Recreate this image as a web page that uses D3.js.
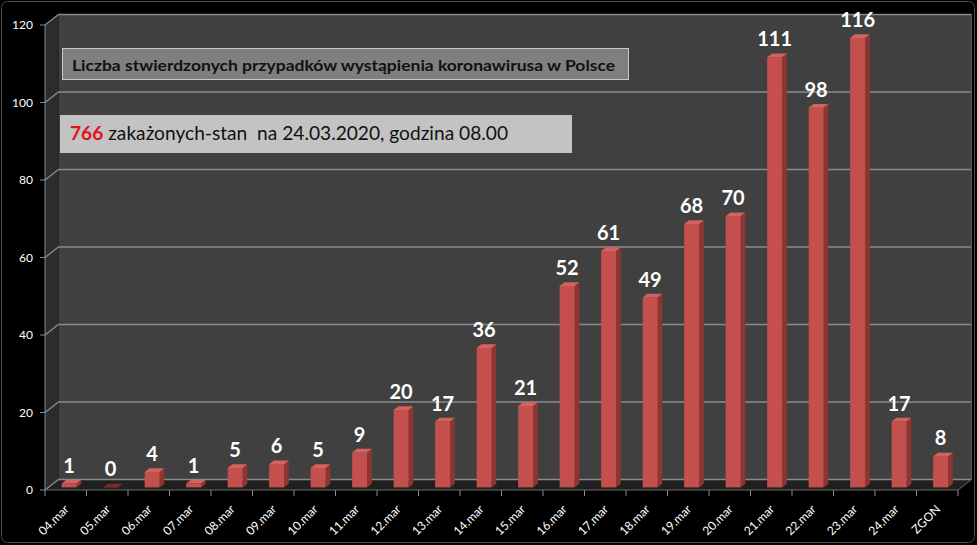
<!DOCTYPE html>
<html>
<head>
<meta charset="utf-8">
<script src="https://cdn.jsdelivr.net/npm/d3@7"></script>
<style>
  html, body { margin: 0; padding: 0; background: #000; }
  svg { display: block; }
  text { font-family: Lato, "Open Sans", sans-serif; }
</style>
</head>
<body>
<svg id="chart" width="977" height="545"></svg>
<script>

// Chart data
const categories = ["04.mar", "05.mar", "06.mar", "07.mar", "08.mar", "09.mar", "10.mar", "11.mar",
                    "12.mar", "13.mar", "14.mar", "15.mar", "16.mar", "17.mar", "18.mar", "19.mar",
                    "20.mar", "21.mar", "22.mar", "23.mar", "24.mar", "ZGON"];
const cases = [1, 0, 4, 1, 5, 6, 5, 9, 20, 17, 36, 21, 52, 61, 49, 68, 70, 111, 98, 116, 17, 8];
const yTicks = [0, 20, 40, 60, 80, 100, 120];
const titleText = "Liczba stwierdzonych przypadków wystąpienia koronawirusa w Polsce";
const totalCases = "766";
const statusText = " zakażonych-stan  na 24.03.2020, godzina 08.00";

const svg = d3.select("#chart");

// Front plane of the 3D box, plus the depth offset to the back wall
const plotLeft = 45, plotRight = 958, plotTop = 25, plotBottom = 490;
const depthX = 13.5, depthY = -10.5;

const x = d3.scaleBand().domain(categories).range([plotLeft, plotRight]);
const y = d3.scaleLinear().domain([0, 120]).range([plotBottom, plotTop]);

// Outer chart border
svg.append("rect")
    .attr("x", 1.5).attr("y", 1.5)
    .attr("width", 973).attr("height", 541)
    .attr("rx", 6)
    .attr("fill", "#000")
    .attr("stroke", "#4a4a4a");

const pts = (arr) => arr.map(p => p.join(",")).join(" ");

// Walls and floor
svg.append("polygon")
    .attr("points", pts([[plotLeft + depthX, plotTop + depthY], [plotRight + depthX, plotTop + depthY],
                         [plotRight + depthX, plotBottom + depthY], [plotLeft + depthX, plotBottom + depthY]]))
    .attr("fill", "#404040");
svg.append("polygon")
    .attr("points", pts([[plotLeft, plotTop], [plotLeft + depthX, plotTop + depthY],
                         [plotLeft + depthX, plotBottom + depthY], [plotLeft, plotBottom]]))
    .attr("fill", "#2c2c2c");
svg.append("polygon")
    .attr("points", pts([[plotLeft, plotBottom], [plotLeft + depthX, plotBottom + depthY],
                         [plotRight + depthX, plotBottom + depthY], [plotRight, plotBottom]]))
    .attr("fill", "#202020");

// Gridlines on side wall + back wall
const grid = svg.append("g").attr("fill", "none").attr("stroke", "#8a8a8a").attr("stroke-width", 1.3);
grid.selectAll("path")
    .data(yTicks)
    .enter()
    .append("path")
    .attr("d", (d) => `M${plotLeft},${y(d)} L${plotLeft + depthX},${y(d) + depthY} L${plotRight + depthX},${y(d) + depthY}`);

// Right edge of back wall
svg.append("line")
    .attr("x1", plotRight + depthX).attr("x2", plotRight + depthX)
    .attr("y1", plotTop + depthY).attr("y2", plotBottom + depthY)
    .attr("stroke", "#5a5a5a");

// Floor front edge + right edge
svg.append("path")
    .attr("d", `M${plotLeft},${plotBottom} L${plotRight},${plotBottom} L${plotRight + depthX},${plotBottom + depthY}`)
    .attr("fill", "none")
    .attr("stroke", "#6a6a6a");

// Y axis line, ticks and labels
svg.append("line")
    .attr("x1", plotLeft).attr("x2", plotLeft)
    .attr("y1", plotTop).attr("y2", plotBottom)
    .attr("stroke", "#8a8a8a");

const yAxis = svg.append("g");
yAxis.selectAll("line")
    .data(yTicks)
    .enter()
    .append("line")
    .attr("x1", plotLeft - 5).attr("x2", plotLeft)
    .attr("y1", (d) => y(d)).attr("y2", (d) => y(d))
    .attr("stroke", "#8a8a8a");
yAxis.selectAll("text")
    .data(yTicks)
    .enter()
    .append("text")
    .attr("x", 33)
    .attr("y", (d) => y(d))
    .attr("dy", "0.35em")
    .attr("text-anchor", "end")
    .attr("fill", "#fff")
    .attr("font-size", 12)
    .text((d) => d);

// X axis ticks at band boundaries, and rotated labels
const xAxis = svg.append("g");
xAxis.selectAll("line")
    .data(categories.concat([null]))
    .enter()
    .append("line")
    .attr("x1", (d, i) => plotLeft + i * x.bandwidth())
    .attr("x2", (d, i) => plotLeft + i * x.bandwidth())
    .attr("y1", plotBottom).attr("y2", plotBottom + 6)
    .attr("stroke", "#8a8a8a");
xAxis.selectAll("text")
    .data(categories)
    .enter()
    .append("text")
    .attr("transform", (d) => `translate(${x(d) + x.bandwidth() / 2 + 1},${plotBottom + 17}) rotate(-45)`)
    .attr("text-anchor", "end")
    .attr("dy", "0.35em")
    .attr("fill", "#fff")
    .attr("font-size", 12)
    .text((d) => d);

// 3D bars
const f0 = 0.25, f1 = 0.6;                  // front/back depth of the bars
const barW = x.bandwidth() * 0.36;
const sdx = (f1 - f0) * depthX, sdy = (f1 - f0) * depthY;

const bars = svg.append("g")
    .selectAll("g")
    .data(categories.map((c, i) => ({ cat: c, value: cases[i] })))
    .enter()
    .append("g");

const barGeom = (d) => {
    const cx = x(d.cat) + x.bandwidth() / 2 + f0 * depthX;
    return { xl: cx - barW / 2, xr: cx + barW / 2, yt: y(d.value) + f0 * depthY, yb: y(0) + f0 * depthY, cx };
};

bars.append("polygon")
    .attr("points", (d) => {
        const g = barGeom(d);
        return pts([[g.xr, g.yt], [g.xr + sdx, g.yt + sdy], [g.xr + sdx, g.yb + sdy], [g.xr, g.yb]]);
    })
    .attr("fill", "#8e3532");
bars.append("rect")
    .attr("x", (d) => barGeom(d).xl)
    .attr("y", (d) => barGeom(d).yt)
    .attr("width", barW)
    .attr("height", (d) => barGeom(d).yb - barGeom(d).yt)
    .attr("fill", "#c4504d");
bars.append("polygon")
    .attr("points", (d) => {
        const g = barGeom(d);
        return pts([[g.xl, g.yt], [g.xr, g.yt], [g.xr + sdx, g.yt + sdy], [g.xl + sdx, g.yt + sdy]]);
    })
    .attr("fill", (d) => d.value === 0 ? "#7a2c2a" : "#d4625f");

// Value labels
bars.append("text")
    .attr("x", (d) => barGeom(d).cx)
    .attr("y", (d) => barGeom(d).yt - 11)
    .attr("text-anchor", "middle")
    .attr("fill", "#fff")
    .attr("font-size", 20)
    .attr("font-weight", "bold")
    .text((d) => d.value);

// Title box
svg.append("rect")
    .attr("x", 62.5).attr("y", 48.5)
    .attr("width", 566).attr("height", 31)
    .attr("fill", "#7f7f7f")
    .attr("stroke", "#c8c8c8");
svg.append("text")
    .attr("x", 72).attr("y", 71)
    .attr("fill", "#111")
    .attr("font-size", 16)
    .attr("font-weight", "bold")
    .attr("textLength", 543)
    .attr("lengthAdjust", "spacingAndGlyphs")
    .text(titleText);

// Status box
svg.append("rect")
    .attr("x", 60).attr("y", 115)
    .attr("width", 512).attr("height", 38)
    .attr("fill", "#c3c3c3");
const status = svg.append("text")
    .attr("x", 70).attr("y", 140)
    .attr("font-size", 19)
    .attr("textLength", 438)
    .attr("lengthAdjust", "spacingAndGlyphs")
    .style("white-space", "pre");
status.append("tspan")
    .attr("fill", "#e0141b")
    .attr("font-weight", "bold")
    .text(totalCases);
status.append("tspan")
    .attr("fill", "#111")
    .text(statusText);

</script>
</body>
</html>
